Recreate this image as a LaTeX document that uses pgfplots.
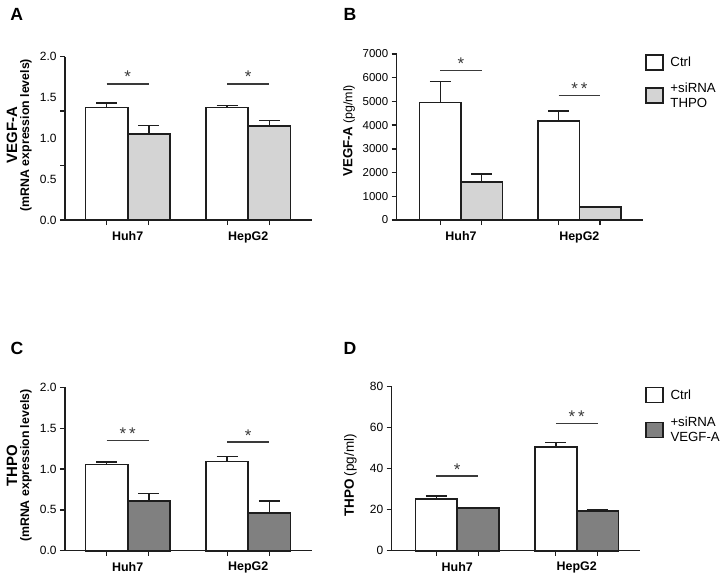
\documentclass[border=0pt]{standalone}
\usepackage{fontspec}
\setmainfont{Liberation Sans}
\usepackage{pgfplots}
\pgfplotsset{compat=1.18}
\definecolor{barline}{HTML}{1E1E1E}
\definecolor{lightg}{HTML}{D4D4D4}
\definecolor{darkg}{HTML}{808080}
\definecolor{sig}{HTML}{3A3A3A}
\newcommand\tf{\fontsize{12}{14}\selectfont}
\newcommand\yl[1]{{\fontsize{15}{16}\selectfont\bfseries #1}}
\newcommand\ys[1]{{\fontsize{12.4}{14}\selectfont\bfseries #1}}
\pgfplotsset{
  panel/.style={
    scale only axis, anchor=south west, clip=false,
    axis x line*=bottom, axis y line*=left,
    axis line style={line width=1.4bp, barline},
    tick align=outside, major tick length=5bp,
    tick style={line width=1.3bp, barline},
    ymin=0,
    xtick={0.825,1.175,1.825,2.175}, xticklabels={},
    extra x ticks={1,2}, extra x tick labels={Huh7,HepG2},
    extra x tick style={major tick length=0pt, tick style={draw=none},
      tick label style={font=\fontsize{12.5}{14}\selectfont\bfseries, yshift=-8bp}},
    yticklabel style={font=\tf},
    /pgf/number format/assume math mode=true,
    ylabel style={anchor=south, align=center, inner sep=0pt},
    legend style={draw=none, fill=none, at={(rel axis cs:1,1)}, anchor=north west,
      inner sep=0pt, row sep=10bp, font=\fontsize{13.3}{15}\selectfont,
      cells={anchor=west, align=left}},
  },
  bstyle/.style={ybar, bar width=0.35, bar shift=0pt, draw=barline, line width=1.6bp,
    error bars/.cd, y dir=plus, y explicit,
    error bar style={line width=1.5bp, barline},
    error mark options={rotate=90, line width=1.5bp, mark size=10.5bp, barline}},
  legend image code/.code={\draw[line width=1.3bp, draw=barline, #1] (0bp,-7.5bp) rectangle (17bp,7.5bp);},
}
\newcommand\sigline[3]{%
  \draw[sig, line width=1.3bp] (axis cs:#1-0.175,#2) -- (axis cs:#1+0.175,#2);
  \node[sig, anchor=base, inner sep=0pt, yshift=1bp, font=\fontsize{17}{19}\selectfont] at (axis cs:#1,#2) {#3};}
\newcommand\ytk[1]{\draw[barline, line width=1.3bp] (axis cs:0.48,#1) -- ([xshift=-5bp]axis cs:0.48,#1);}
\begin{document}
\begin{tikzpicture}
\path[use as bounding box] (0,0) rectangle (722bp,-582bp);

% ---------- A ----------
\begin{axis}[panel, at={(65bp,-220bp)}, width=246.7bp, height=163.3bp,
  xmin=0.48, xmax=2.526, ymax=2,
  ytick={0,0.5,1,1.5,2}, yticklabels={0.0,0.5,1.0,1.5,2.0}, ytick style={draw=none},
  ylabel={\yl{VEGF-A}\\\ys{(mRNA expression levels)}},
  ylabel style={at={(axis description cs:-0.134,0.52)}}]
\addplot[fill=white, bstyle] coordinates {(0.825,1.38) +- (0,0.05) (1.825,1.38) +- (0,0.02)};
\addplot[fill=lightg, bstyle] coordinates {(1.175,1.05) +- (0,0.105) (2.175,1.15) +- (0,0.07)};
\ytk{0}
\ytk{0.6667}
\ytk{1.3333}
\ytk{2}
\sigline{1}{1.667}{*}
\sigline{2}{1.667}{*}
\end{axis}

% ---------- B ----------
\begin{axis}[panel, at={(396.7bp,-220bp)}, width=246.3bp, height=166bp,
  xmin=0.4565, xmax=2.538, ymax=7000,
  ytick={0,1000,...,7000}, yticklabels={0,1000,2000,3000,4000,5000,6000,7000},
  yticklabel style={font=\fontsize{11.5}{13}\selectfont},
  ylabel={{\fontsize{13.3}{15}\selectfont\bfseries VEGF-A} {\fontsize{12.5}{14}\selectfont (pg/ml)}},
  ylabel style={at={(axis description cs:-0.169,0.537)}},
  legend style={xshift=2bp, row sep=10bp}]
\addplot[fill=white, bstyle] coordinates {(0.825,4950) +- (0,900) (1.825,4170) +- (0,420)};
\addlegendentry{\hspace{5bp}Ctrl}
\addplot[fill=lightg, bstyle] coordinates {(1.175,1600) +- (0,330) (2.175,550) +- (0,20)};
\addlegendentry{\hspace{5bp}+siRNA\\\hspace{5bp}THPO}
\sigline{1}{6290}{*}
\sigline{2}{5250}{*\kern3bp*}
\end{axis}

% ---------- C ----------
\begin{axis}[panel, at={(65bp,-550.7bp)}, width=246.7bp, height=163.4bp,
  xmin=0.48, xmax=2.526, ymax=2,
  ytick={0,0.5,1,1.5,2}, yticklabels={0.0,0.5,1.0,1.5,2.0},
  ylabel={\yl{THPO}\\\ys{(mRNA expression levels)}},
  ylabel style={at={(axis description cs:-0.134,0.52)}}]
\addplot[fill=white, bstyle] coordinates {(0.825,1.053) +- (0,0.035) (1.825,1.094) +- (0,0.057)};
\addplot[fill=darkg, bstyle] coordinates {(1.175,0.608) +- (0,0.09) (2.175,0.465) +- (0,0.145)};
\sigline{1}{1.351}{*\kern3bp*}
\sigline{2}{1.33}{*}
\end{axis}

% ---------- D ----------
\begin{axis}[panel, at={(391.7bp,-550.7bp)}, width=248.3bp, height=164bp,
  xmin=0.451, xmax=2.530, ymax=80,
  ytick={0,20,40,60,80}, yticklabels={0,20,40,60,80},
  ylabel={{\fontsize{13.5}{15}\selectfont\bfseries THPO} {\fontsize{13.5}{15}\selectfont (pg/ml)}},
  ylabel style={at={(axis description cs:-0.14,0.46)}},
  legend style={xshift=5bp, row sep=12bp}]
\addplot[fill=white, bstyle] coordinates {(0.825,25.3) +- (0,1.4) (1.825,50.5) +- (0,2.4)};
\addlegendentry{\hspace{5bp}Ctrl}
\addplot[fill=darkg, bstyle] coordinates {(1.175,20.7) +- (0,0.3) (2.175,19.4) +- (0,0.7)};
\addlegendentry{\hspace{5bp}+siRNA\\\hspace{5bp}VEGF-A}
\sigline{1}{36.4}{*}
\sigline{2}{62.1}{*\kern3bp*}
\end{axis}

% panel letters
\node[font=\fontsize{17.7}{18}\selectfont\bfseries] at (16.7bp,-14bp) {A};
\node[font=\fontsize{17.7}{18}\selectfont\bfseries] at (350bp,-14bp) {B};
\node[font=\fontsize{17.7}{18}\selectfont\bfseries] at (17bp,-348bp) {C};
\node[font=\fontsize{17.7}{18}\selectfont\bfseries] at (350bp,-348bp) {D};
\end{tikzpicture}
\end{document}
